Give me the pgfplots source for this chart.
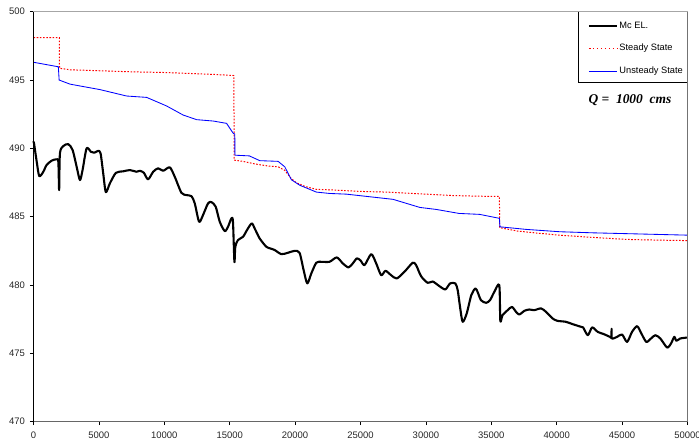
\documentclass[border=0pt]{standalone}
\usepackage{pgfplots}
\pgfplotsset{compat=1.18}
\usepackage{fontspec}
\setmainfont{Liberation Sans}
\newfontfamily\timesfont{Liberation Serif}
\begin{document}
\begin{tikzpicture}
\begin{axis}[
  scale only axis,
  width=654bp, height=410bp,
  xmin=0, xmax=50000, ymin=470, ymax=500,
  xtick={0,5000,...,50000},
  ytick={470,475,...,500},
  scaled x ticks=false,
  /pgf/number format/assume math mode=true,
  xticklabel={\pgfmathprintnumber[fixed,precision=0,1000 sep={}]{\tick}},
  yticklabel={\pgfmathprintnumber[fixed,precision=0,1000 sep={}]{\tick}},
  ticklabel style={font=\fontsize{9.5}{11}\selectfont, text=black!85},
  xticklabel style={yshift=-3bp},
  yticklabel style={xshift=-1.5bp},
  tick align=outside,
  major tick length=3.5bp,
  tick style={black, line width=0.6pt},
  xtick pos=bottom, ytick pos=left,
  minor tick num=0,
  axis line style={draw=none},
  clip=false,
  legend style={at={(rel axis cs:1,1)}, anchor=north east,
    draw=none, fill=none,
    font=\fontsize{9.3}{11}\selectfont,
    inner xsep=3bp, inner ysep=8bp, row sep=10.5bp,
    nodes={inner xsep=1.5bp}},
  legend cell align=left,
]
\fill[white] (rel axis cs:0.8326,1) rectangle (rel axis cs:1,0.8285);
\draw[black, line width=0.9pt] (rel axis cs:1,0.8285) -- (rel axis cs:0.8326,0.8285) -- (rel axis cs:0.8326,1);
\addplot[draw=black, line width=2.1pt, line join=round, smooth, tension=0.45,
  legend image code/.code={\color{black}\draw[draw=black, line width=2.1pt] (0bp,0bp) -- (28bp,0bp);}] coordinates {
(0,490.45) (40,490.37) (250,489.0) (440,487.97) (750,488.29) (1000,488.78) (1390,489.1) (1770,489.2) (1900,489.0)
(1960,486.95) (2020,489.63) (2280,490.17) (2660,490.31) (2990,489.88) (3300,488.65) (3550,487.68)
(3750,488.41) (4060,490.0) (4390,489.75) (4640,489.68) (4950,489.82) (5130,489.63) (5330,488.17)
(5530,486.8) (5840,487.44) (6300,488.21) (6860,488.32) (7370,488.41) (7880,488.29) (8130,488.36)
(8440,488.21) (8760,487.73) (9150,488.29) (9530,488.54) (9910,488.36) (10420,488.61) (10800,487.92)
(11310,486.75) (11700,486.58) (12080,486.5) (12330,485.97) (12660,484.63) (12960,485.12) (13340,485.97)
(13600,486.07) (13930,485.73) (14240,484.63) (14620,483.95) (14870,484.26) (15130,484.88) (15250,484.63)
(15360,481.7) (15430,482.8) (15630,483.29) (16020,483.53) (16320,484.02) (16680,484.51) (16910,484.14)
(17290,483.41) (17800,482.8) (18100,482.68) (18440,482.56) (18950,482.26) (19450,482.36) (19960,482.5)
(20340,482.36) (20650,481.1) (20930,480.12) (21240,480.85) (21620,481.63) (22000,481.70) (22630,481.70)
(23190,482.02) (23650,481.58) (24080,481.29) (24410,481.58) (24720,481.95) (25000,481.8) (25310,481.46)
(25820,482.26) (26200,481.58) (26580,480.72) (26910,481.04) (27340,480.72) (27770,480.48) (28360,480.97)
(28990,481.63) (29250,481.46) (29630,480.65) (30140,480.16) (30520,480.26) (31030,479.92) (31490,479.68)
(31850,480.12) (32250,480.12) (32430,479.63) (32610,478.4) (32810,477.31) (33120,477.92) (33470,479.26)
(33780,479.75) (33950,479.5) (34210,478.89) (34600,478.7) (34900,478.89) (35230,479.5) (35610,479.99)
(35690,477.38) (35860,477.8) (36250,478.16) (36580,478.4) (36890,478.04) (37140,477.84) (37520,478.11)
(37900,478.21) (38280,478.16) (38800,478.29) (39180,478.04) (39690,477.55) (40060,477.38) (40700,477.31)
(41210,477.14) (41870,476.94) (42020,476.9) (42380,476.33) (42710,476.9) (43140,476.57) (43600,476.41)
(44060,476.21) (44190,476.15) (44200,476.8) (44210,476.1) (44620,476.21) (45000,476.38) (45380,475.84)
(45760,476.57) (46150,476.99) (46470,476.46) (46850,475.84) (47210,476.09) (47540,476.33) (47920,476.09)
(48440,475.43) (48740,475.72) (48990,476.21) (49150,475.92) (49450,476.09) (50000,476.16)
};
\addlegendentry{Mc EL.}
\addplot[draw=red, line width=1pt, dash pattern=on 1.6pt off 1.6pt,
  legend image code/.code={\color{red}\draw[draw=red, line width=1pt, dash pattern=on 1.6pt off 2.4pt] (0bp,0bp) -- (28bp,0bp);}] coordinates {
(0,498.1) (1970,498.1) (1990,495.86) (2800,495.75) (5000,495.68) (7500,495.6) (10000,495.55)
(12000,495.48) (14000,495.4) (15320,495.33) (15340,489.14) (16000,489.05) (17000,488.85) (18000,488.7)
(18700,488.65) (19200,488.4) (19700,487.8) (20100,487.48) (20800,487.2) (21630,487.0) (23000,486.95)
(25000,486.85) (27000,486.8) (29000,486.7) (32000,486.55) (34000,486.5) (35620,486.48) (35640,484.2)
(37000,483.95) (38500,483.8) (40200,483.65) (42500,483.5) (45300,483.34) (47000,483.3) (50000,483.25)
};
\addlegendentry{Steady State}
\addplot[draw=blue, line width=0.85pt,
  legend image code/.code={\color{blue}\draw[draw=blue, line width=0.85pt] (0bp,0bp) -- (28bp,0bp);}] coordinates {
(0,496.3) (1900,495.97) (1960,495.0) (2790,494.7) (5080,494.3) (7120,493.83) (8650,493.73)
(10180,493.1) (11440,492.44) (12470,492.1) (13740,492.0) (14760,491.83) (15270,491.1) (15390,491.05)
(15400,489.5) (16500,489.45) (17300,489.1) (18700,489.05) (19210,488.65) (19720,487.7) (20360,487.3)
(21630,486.8) (22650,486.7) (23920,486.65) (25700,486.46) (27490,486.27) (29530,485.68) (30800,485.53)
(32530,485.24) (34110,485.17) (35620,484.88) (35660,484.26) (37680,484.07) (40220,483.9) (42770,483.82)
(46590,483.73) (50000,483.65)
};
\addlegendentry{Unsteady State}
\draw[black!35, line width=1.3pt] (rel axis cs:0,1) -- (rel axis cs:1,1);
\draw[black!55, line width=0.8pt] (rel axis cs:1,0) -- (rel axis cs:1,1);
\draw[black!60, line width=1.6pt] (rel axis cs:0,0) -- (rel axis cs:1,0);
\draw[black, line width=0.9pt] (rel axis cs:0,0) -- (rel axis cs:0,1);
\node[font=\timesfont\bfseries\itshape\fontsize{13.5}{15}\selectfont] at (rel axis cs:0.912,0.785) {Q = \ 1000 \ cms};
\coordinate (SW) at (rel axis cs:0,0);
\end{axis}
\pgfresetboundingbox
\path (SW) ++(-33.5bp,-21.3bp) rectangle ++(699bp,443bp);
\end{tikzpicture}
\end{document}
